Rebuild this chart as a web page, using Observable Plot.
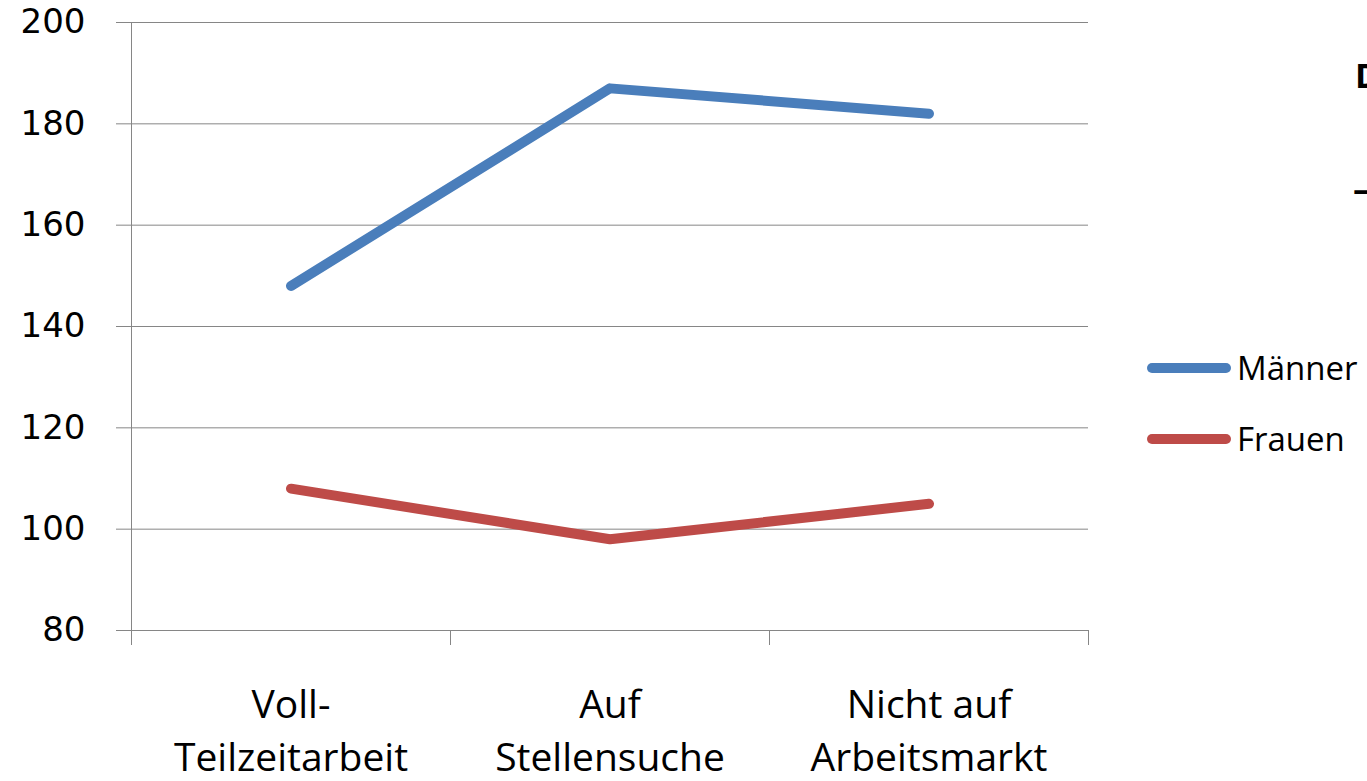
<!DOCTYPE html>
<html><head><meta charset="utf-8">
<script src="https://cdn.jsdelivr.net/npm/d3@7"></script>
<script src="https://cdn.jsdelivr.net/npm/@observablehq/plot@0.6"></script>
<style>
html,body{margin:0;padding:0;overflow:hidden;background:#fff;width:1367px;height:781px}
#wrap{position:relative;width:1367px;height:781px;overflow:hidden}
#legend{position:absolute;left:1147px;top:332px;font-family:"Open Sans",sans-serif;font-size:33px;color:#000}
.item{display:flex;align-items:center;height:71px;white-space:nowrap}
.item svg{margin-right:6px}
.cut{position:absolute;font-family:"Open Sans",sans-serif;font-weight:bold;color:#000;white-space:nowrap}
</style></head><body><div id="wrap"></div>
<script>
const categories = ["Voll-\nTeilzeitarbeit", "Auf\nStellensuche", "Nicht auf\nArbeitsmarkt"];
const seriesNames = ["Männer", "Frauen"];
const maenner = [148, 187, 182];
const frauen = [108, 98, 105];
const seriesColors = ["#4A7EBB", "#BE4B48"];
const yTicks = [80, 100, 120, 140, 160, 180, 200];

const rows = [];
[maenner, frauen].forEach((vals, s) => vals.forEach((v, i) => rows.push({cat: categories[i], value: v, series: seriesNames[s]})));

const W = 1367, H = 781, mL = 131, mR = 279;
const half = (W - mL - mR) / categories.length / 2;

const chart = Plot.plot({
  width: W, height: H,
  marginLeft: mL, marginRight: mR, marginTop: 22, marginBottom: 151,
  style: {background: "white", fontFamily: "Open Sans, sans-serif", overflow: "visible"},
  x: {type: "band", domain: categories, padding: 0},
  y: {domain: [80, 200]},
  color: {domain: seriesNames, range: seriesColors},
  marks: [
    Plot.gridY(yTicks, {stroke: "#868686", strokeOpacity: 1, strokeWidth: 1}),
    Plot.axisY(yTicks, {tickSize: 15, tickPadding: 31, stroke: "#868686", fill: "#000", fontSize: 34, fontFamily: "DejaVu Sans", label: null}),
    Plot.ruleX([categories[0]], {dx: -half, stroke: "#868686", insetBottom: -15}),
    Plot.ruleX(categories.slice(1), {dx: -half, y1: 80, y2: 80, insetBottom: -15, stroke: "#868686"}),
    Plot.ruleX([categories[categories.length - 1]], {dx: half, y1: 80, y2: 80, insetBottom: -15, stroke: "#868686"}),
    Plot.axisX({tickSize: 0, tickPadding: 50, fontSize: 39, lineHeight: 1.36, fill: "#000", label: null, fontFamily: "Open Sans"}),
    Plot.line(rows, {x: "cat", y: "value", z: "series", stroke: "series", strokeWidth: 10, strokeLinecap: "round", strokeLinejoin: "round"})
  ]
});
const wrap = document.getElementById("wrap");
wrap.appendChild(chart);

const legend = document.createElement("div");
legend.id = "legend";
seriesNames.forEach((name, i) => {
  const it = document.createElement("div");
  it.className = "item";
  it.innerHTML = `<svg width="84" height="12"><line x1="5" y1="6" x2="79" y2="6" stroke="${seriesColors[i]}" stroke-width="10" stroke-linecap="round"/></svg><span>${name}</span>`;
  legend.appendChild(it);
});
wrap.appendChild(legend);

const t1 = document.createElement("div");
t1.className = "cut"; t1.textContent = "Durchschnitt";
t1.style.left = "1355px"; t1.style.top = "52px"; t1.style.fontSize = "34px";
wrap.appendChild(t1);
const t2 = document.createElement("div");
t2.className = "cut"; t2.textContent = "– ";
t2.style.left = "1353px"; t2.style.top = "165px"; t2.style.fontSize = "34px";
wrap.appendChild(t2);
</script>
</body></html>
